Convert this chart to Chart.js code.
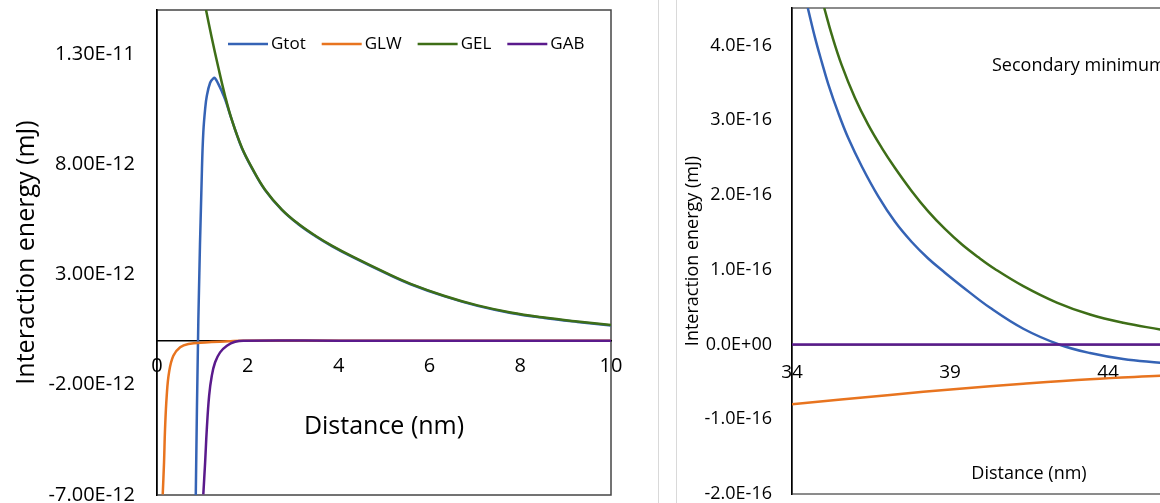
<!DOCTYPE html>
<html>
<head>
<meta charset="utf-8">
<title>Interaction energy vs distance</title>
<script src="https://cdn.jsdelivr.net/npm/chart.js@4.4.1/dist/chart.umd.min.js"></script>
<style>
    html, body { margin: 0; padding: 0; background: #fff; overflow: hidden; }
    #wrap { position: relative; width: 1160px; height: 503px; overflow: hidden; }
    #leftBox { position: absolute; left: 0; top: 0; width: 658px; height: 503px; border-right: 1px solid #d9d9d9; }
    #rightBox { position: absolute; left: 676px; top: 0; width: 700px; height: 503px; border-left: 1px solid #d9d9d9; }
    canvas { display: block; }
</style>
</head>
<body>
<div id="wrap">
    <div id="leftBox"><canvas id="leftChart" width="658" height="503"></canvas></div>
    <div id="rightBox"><canvas id="rightChart" width="620" height="503"></canvas></div>
</div>
<script>
// Distances in nm. Left chart energies in units of 1e-12 mJ, right chart in 1e-16 mJ.
const seriesNames = ['Gtot', 'GLW', 'GEL', 'GAB'];
const seriesColors = ['#3563B5', '#E8741F', '#3E6E17', '#5A1A8C'];

// left chart (0 - 10 nm)
const leftGtotX = [0.854, 0.911, 0.99, 1.02, 1.06, 1.097, 1.17, 1.24, 1.28, 1.35, 1.43, 1.50, 1.58, 1.65, 1.72, 1.87, 2.09, 2.38, 2.75, 3.12, 3.49, 3.86, 4.30, 5.07, 5.585, 6.32, 7.06, 7.79, 8.53, 9.26, 10.0];
const leftGtotY = [-7.0, 0.98, 7.78, 9.45, 10.5, 11.1, 11.7, 11.9, 11.9, 11.65, 11.3, 10.95, 10.45, 10.0, 9.57, 8.73, 7.83, 6.83, 5.93, 5.27, 4.74, 4.28, 3.80, 3.03, 2.56, 2.02, 1.58, 1.26, 1.03, 0.85, 0.69];

const leftGlwX = [0.126, 0.155, 0.177, 0.214, 0.265, 0.36, 0.51, 0.69, 1.06, 1.57, 1.87, 4, 6, 8, 10];
const leftGlwY = [-6.97, -5.52, -4.01, -2.50, -1.44, -0.68, -0.30, -0.15, -0.08, -0.03, 0, 0, 0, 0, 0];

const leftGelX = [1.08, 1.20, 1.35, 1.50, 1.65, 1.87, 2.09, 2.38, 2.75, 3.12, 3.49, 3.86, 4.30, 5.07, 5.585, 6.32, 7.06, 7.79, 8.53, 9.26, 10.0];
const leftGelY = [15.0, 13.8, 12.4, 11.1, 10.0, 8.75, 7.85, 6.85, 5.95, 5.29, 4.76, 4.30, 3.82, 3.05, 2.58, 2.04, 1.60, 1.28, 1.05, 0.87, 0.71];

const leftGabX = [1.02, 1.06, 1.097, 1.148, 1.207, 1.28, 1.39, 1.54, 1.72, 1.905, 4, 6, 8, 10];
const leftGabY = [-6.97, -5.52, -4.01, -2.50, -1.59, -0.98, -0.53, -0.23, -0.05, 0, 0, 0, 0, 0];

const leftYTicks = [-7, -2, 3, 8, 13];
const leftYLabels = ['-7.00E-12', '-2.00E-12', '3.00E-12', '8.00E-12', '1.30E-11'];

// right chart (secondary minimum region)
const rightGtotX = [34.50, 34.73, 34.94, 35.15, 35.47, 35.78, 36.21, 36.73, 37.26, 37.79, 38.31, 38.84, 39.37, 40.27, 41.32, 42.45, 43.43, 44.48, 45.65];
const rightGtotY = [4.50, 4.10, 3.78, 3.48, 3.09, 2.76, 2.38, 1.98, 1.64, 1.37, 1.15, 0.96, 0.78, 0.49, 0.21, 0.0, -0.115, -0.195, -0.245];

const rightGlwX = [34, 37.1, 39.21, 41.32, 43.43, 45.65];
const rightGlwY = [-0.80, -0.675, -0.595, -0.525, -0.465, -0.42];

const rightGelX = [35.02, 35.26, 35.57, 35.99, 36.41, 36.84, 37.26, 37.79, 38.31, 38.84, 39.37, 39.90, 40.42, 41.32, 42.38, 43.43, 44.48, 45.65];
const rightGelY = [4.50, 4.14, 3.74, 3.30, 2.94, 2.63, 2.36, 2.05, 1.78, 1.545, 1.34, 1.165, 1.01, 0.78, 0.56, 0.40, 0.29, 0.20];

const rightGabX = [34, 38, 42, 45.65];
const rightGabY = [0, 0, 0, 0];

const rightYTicks = [-2, -1, 0, 1, 2, 3, 4];
const rightYLabels = ['-2.0E-16', '-1.0E-16', '0.0E+00', '1.0E-16', '2.0E-16', '3.0E-16', '4.0E-16'];

Chart.defaults.font.family = "'Open Sans', sans-serif";
Chart.defaults.color = '#000';

function toPoints(xs, ys) {
    return xs.map((x, i) => ({ x: x, y: ys[i] }));
}

function buildDatasets(pointSets) {
    return pointSets.map((pts, i) => ({
        label: seriesNames[i],
        data: pts,
        borderColor: seriesColors[i],
        backgroundColor: seriesColors[i],
        borderWidth: 2.5,
        pointRadius: 0,
        fill: false,
        tension: 0.4,
        order: seriesNames.length - i // later series on top, like the original
    }));
}

// plot area outline
const plotFrame = {
    id: 'plotFrame',
    beforeDraw(chart, args, opts) {
        const { ctx, chartArea: a } = chart;
        ctx.save();
        ctx.strokeStyle = opts.color || '#444';
        ctx.lineWidth = 1.5;
        ctx.strokeRect(a.left, a.top, a.right - a.left, a.bottom - a.top);
        ctx.restore();
    }
};

// legend drawn inside the plot, line + label per series
const seriesLegend = {
    id: 'seriesLegend',
    afterDraw(chart, args, opts) {
        const ctx = chart.ctx;
        let x = opts.x;
        ctx.save();
        ctx.font = opts.fontSize + "px 'Open Sans'";
        ctx.textBaseline = 'middle';
        chart.data.datasets.forEach(ds => {
            ctx.strokeStyle = ds.borderColor;
            ctx.lineWidth = 2.5;
            ctx.beginPath();
            ctx.moveTo(x, opts.y);
            ctx.lineTo(x + opts.lineLength, opts.y);
            ctx.stroke();
            x += opts.lineLength + 3;
            ctx.fillStyle = '#000';
            ctx.fillText(ds.label, x, opts.y);
            x += ctx.measureText(ds.label).width + 16;
        });
        ctx.restore();
    }
};

const noteText = {
    id: 'noteText',
    afterDraw(chart, args, opts) {
        const ctx = chart.ctx;
        ctx.save();
        ctx.font = opts.fontSize + "px 'Open Sans'";
        ctx.fillStyle = '#000';
        ctx.textBaseline = 'middle';
        ctx.fillText(opts.text, opts.x, opts.y);
        ctx.restore();
    }
};

function axisX(min, max, step, tickSize, tickPad, titleSize, titlePad) {
    return {
        type: 'linear',
        min: min,
        max: max,
        position: { y: 0 },
        grid: { display: false, drawTicks: false },
        border: { display: true, color: '#000', width: 1.5 },
        ticks: { stepSize: step, padding: tickPad, maxRotation: 0, font: { size: tickSize }, color: '#000' },
        title: { display: true, text: 'Distance (nm)', color: '#000', font: { size: titleSize }, padding: { top: titlePad, bottom: 0 } },
        afterFit(scale) {
            scale.paddingLeft = 0;
            scale.paddingRight = 0;
        }
    };
}

function axisY(min, max, tickValues, tickLabels, width, tickSize, tickPad, titleSize, titlePad) {
    return {
        type: 'linear',
        min: min,
        max: max,
        grid: { display: false, drawTicks: false },
        border: { display: true, color: '#000', width: 1.5 },
        ticks: {
            padding: tickPad,
            font: { size: tickSize },
            color: '#000',
            callback: (value, index) => tickLabels[index]
        },
        afterBuildTicks(scale) {
            scale.ticks = tickValues.map(v => ({ value: v }));
        },
        afterFit(scale) {
            scale.width = width;
            scale.paddingTop = 0;
            scale.paddingBottom = 0;
        },
        title: { display: true, text: 'Interaction energy (mJ)', color: '#000', font: { size: titleSize }, padding: { top: titlePad, bottom: 0 } }
    };
}

new Chart(document.getElementById('leftChart'), {
    type: 'line',
    data: {
        datasets: buildDatasets([
            toPoints(leftGtotX, leftGtotY),
            toPoints(leftGlwX, leftGlwY),
            toPoints(leftGelX, leftGelY),
            toPoints(leftGabX, leftGabY)
        ])
    },
    options: {
        responsive: false,
        animation: false,
        layout: { padding: { top: 10, right: 47, bottom: 8, left: 0 } },
        scales: {
            x: axisX(0, 10, 2, 20, 14, 25, 19),
            y: axisY(-7, 15, leftYTicks, leftYLabels, 157, 20, 22, 25, 12)
        },
        plugins: {
            legend: { display: false },
            tooltip: { enabled: false },
            plotFrame: { color: '#444' },
            seriesLegend: { x: 228, y: 44, lineLength: 40, fontSize: 17 }
        }
    },
    plugins: [plotFrame, seriesLegend]
});

new Chart(document.getElementById('rightChart'), {
    type: 'line',
    data: {
        datasets: buildDatasets([
            toPoints(rightGtotX, rightGtotY),
            toPoints(rightGlwX, rightGlwY),
            toPoints(rightGelX, rightGelY),
            toPoints(rightGabX, rightGabY)
        ])
    },
    options: {
        responsive: false,
        animation: false,
        layout: { padding: { top: 8, right: 31, bottom: 9, left: 0 } },
        scales: {
            x: axisX(34, 49, 5, 19, 17, 18, 62),
            y: axisY(-2, 4.5, rightYTicks, rightYLabels, 115, 18, 20, 18, 5)
        },
        plugins: {
            legend: { display: false },
            tooltip: { enabled: false },
            plotFrame: { color: '#666' },
            noteText: { text: 'Secondary minimum', x: 315, y: 66, fontSize: 18 }
        }
    },
    plugins: [plotFrame, noteText]
});
</script>
</body>
</html>
